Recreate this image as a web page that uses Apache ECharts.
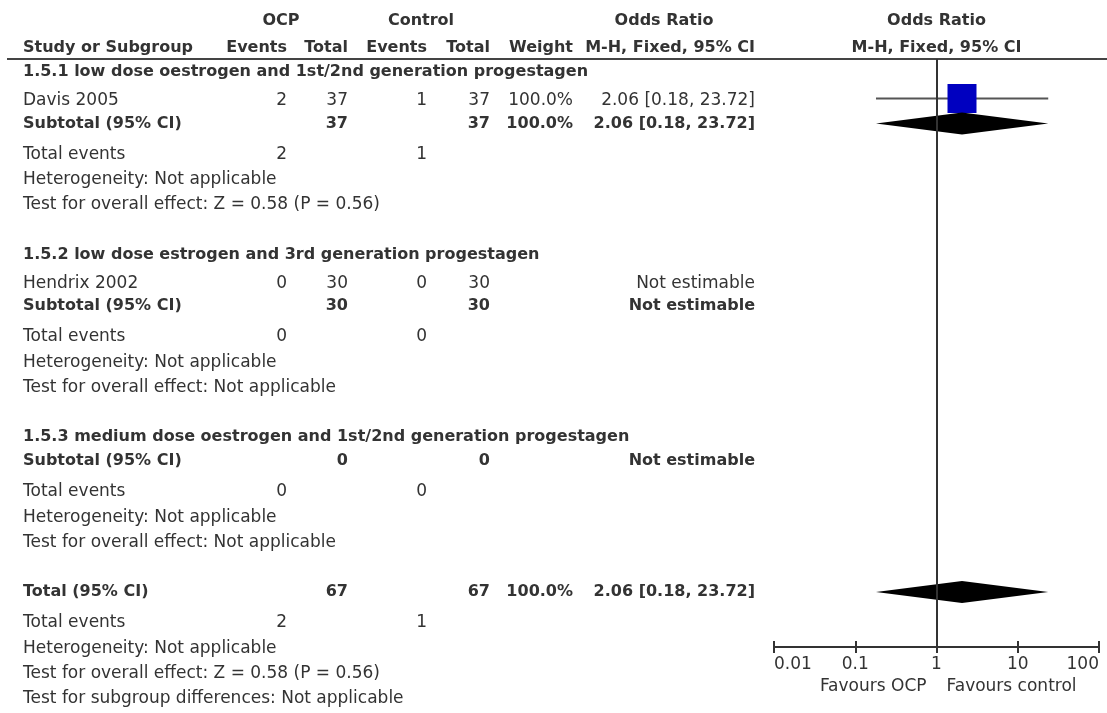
<!DOCTYPE html>
<html>
<head>
<meta charset="utf-8">
<script src="https://cdn.jsdelivr.net/npm/echarts@6/dist/echarts.min.js"></script>
<style>
  html, body { margin: 0; padding: 0; background: #ffffff; }
  #chart { width: 1107px; height: 713px; }
</style>
</head>
<body>
<div id="chart"></div>
<script>
// ---- Study data ----
const subgroupTitles = [
  '1.5.1 low dose oestrogen and 1st/2nd generation progestagen',
  '1.5.2 low dose estrogen and 3rd generation progestagen',
  '1.5.3 medium dose oestrogen and 1st/2nd generation progestagen'
];
const studyNames = ['Davis 2005', 'Hendrix 2002'];
const studyGroup = [0, 1];
const studyOcpEvents = [2, 0];
const studyOcpTotal = [37, 30];
const studyCtrlEvents = [1, 0];
const studyCtrlTotal = [37, 30];
const studyWeight = [100.0, null];
const studyOR = [2.06, null];
const studyLow = [0.18, null];
const studyHigh = [23.72, null];

// ---- Subgroup summaries ----
const subOcpTotal = [37, 30, 0];
const subCtrlTotal = [37, 30, 0];
const subWeight = [100.0, null, null];
const subOR = [2.06, null, null];
const subLow = [0.18, null, null];
const subHigh = [23.72, null, null];
const subOcpEvents = [2, 0, 0];
const subCtrlEvents = [1, 0, 0];
const subHeterogeneity = ['Not applicable', 'Not applicable', 'Not applicable'];
const subOverallEffect = ['Z = 0.58 (P = 0.56)', 'Not applicable', 'Not applicable'];

// ---- Overall summary ----
const totalOcpTotal = [67];
const totalCtrlTotal = [67];
const totalWeight = [100.0];
const totalOR = [2.06];
const totalLow = [0.18];
const totalHigh = [23.72];
const totalOcpEvents = [2];
const totalCtrlEvents = [1];
const totalHeterogeneity = ['Not applicable'];
const totalOverallEffect = ['Z = 0.58 (P = 0.56)'];
const subgroupDifferences = ['Not applicable'];

// ---- Axis ----
const axisTicks = [0.01, 0.1, 1, 10, 100];
const axisTickLabels = ['0.01', '0.1', '1', '10', '100'];
const favoursLabels = ['Favours OCP', 'Favours control'];

// ---- Layout (row spacing in px below the header rule, column anchors in px) ----
const STEP = { headToStudy: 29, studyToStudy: 22, studyToSub: 22.5, headToSub: 24,
               subToEvents: 31, eventsToHet: 25.5, hetToTest: 25, groupGap: 49.5, firstHead: 13 };
const HEAD1 = -38, HEAD2 = -11;
const COL = { name: 23, ocpEv: 287, ocpTot: 348, ctlEv: 427, ctlTot: 490, weight: 573, ci: 755,
              ocpHead: 281, ctlHead: 421, orHead: 664, ruleStart: 7, ruleEnd: 1107 };
const REG = '17px "DejaVu Sans"';
const BOLD = 'bold 16px "DejaVu Sans"';
const TEXT = '#333333';
const STUDY_MARK_LIFT = 2.5;   // study squares sit slightly above the text centre line

const fmtCI = (or, lo, hi) => or == null ? 'Not estimable'
  : or.toFixed(2) + ' [' + lo.toFixed(2) + ', ' + hi.toFixed(2) + ']';
const fmtW = w => w == null ? '' : w.toFixed(1) + '%';

const texts = [];   // table cells
const marks = [];   // forest plot marks: [or, row, lo, hi, weight, kind]
const T = (x, y, text, align, bold) => texts.push({ value: [x, y], text: String(text), align, bold });

// header
T(COL.ocpHead, HEAD1, 'OCP', 'center', true);
T(COL.ctlHead, HEAD1, 'Control', 'center', true);
T(COL.orHead, HEAD1, 'Odds Ratio', 'center', true);
T(COL.name, HEAD2, 'Study or Subgroup', 'left', true);
T(COL.ocpEv, HEAD2, 'Events', 'right', true);
T(COL.ocpTot, HEAD2, 'Total', 'right', true);
T(COL.ctlEv, HEAD2, 'Events', 'right', true);
T(COL.ctlTot, HEAD2, 'Total', 'right', true);
T(COL.weight, HEAD2, 'Weight', 'right', true);
T(COL.ci, HEAD2, 'M-H, Fixed, 95% CI', 'right', true);

function summaryRows(y, label, ocpTot, ctlTot, w, or, lo, hi, ocpEv, ctlEv, het, eff) {
  T(COL.name, y, label, 'left', true);
  T(COL.ocpTot, y, ocpTot, 'right', true);
  T(COL.ctlTot, y, ctlTot, 'right', true);
  T(COL.weight, y, fmtW(w), 'right', true);
  T(COL.ci, y, fmtCI(or, lo, hi), 'right', true);
  if (or != null) marks.push([or, y, lo, hi, w, 'diamond']);
  y += STEP.subToEvents;
  T(COL.name, y, 'Total events', 'left', false);
  T(COL.ocpEv, y, ocpEv, 'right', false);
  T(COL.ctlEv, y, ctlEv, 'right', false);
  y += STEP.eventsToHet;
  T(COL.name, y, 'Heterogeneity: ' + het, 'left', false);
  y += STEP.hetToTest;
  T(COL.name, y, 'Test for overall effect: ' + eff, 'left', false);
  return y;
}

let y = STEP.firstHead;
subgroupTitles.forEach((title, g) => {
  if (g > 0) y += STEP.groupGap;
  T(COL.name, y, title, 'left', true);
  let n = 0;
  studyNames.forEach((name, i) => {
    if (studyGroup[i] !== g) return;
    y += n === 0 ? STEP.headToStudy : STEP.studyToStudy;
    n++;
    T(COL.name, y, name, 'left', false);
    T(COL.ocpEv, y, studyOcpEvents[i], 'right', false);
    T(COL.ocpTot, y, studyOcpTotal[i], 'right', false);
    T(COL.ctlEv, y, studyCtrlEvents[i], 'right', false);
    T(COL.ctlTot, y, studyCtrlTotal[i], 'right', false);
    T(COL.weight, y, fmtW(studyWeight[i]), 'right', false);
    T(COL.ci, y, fmtCI(studyOR[i], studyLow[i], studyHigh[i]), 'right', false);
    if (studyOR[i] != null) marks.push([studyOR[i], y, studyLow[i], studyHigh[i], studyWeight[i], 'square']);
  });
  y += n > 0 ? STEP.studyToSub : STEP.headToSub;
  y = summaryRows(y, 'Subtotal (95% CI)', subOcpTotal[g], subCtrlTotal[g], subWeight[g],
                  subOR[g], subLow[g], subHigh[g], subOcpEvents[g], subCtrlEvents[g],
                  subHeterogeneity[g], subOverallEffect[g]);
});
y += STEP.groupGap;
y = summaryRows(y, 'Total (95% CI)', totalOcpTotal[0], totalCtrlTotal[0], totalWeight[0],
                totalOR[0], totalLow[0], totalHigh[0], totalOcpEvents[0], totalCtrlEvents[0],
                totalHeterogeneity[0], totalOverallEffect[0]);
y += STEP.hetToTest;
T(COL.name, y, 'Test for subgroup differences: ' + subgroupDifferences[0], 'left', false);

// labels hung on the plot's line of no effect (x = 1)
const AXIS_Y = 588;
const plotLabels = [
  { value: [1, HEAD1], text: 'Odds Ratio', align: 'center', dx: 0, bold: true },
  { value: [1, HEAD2], text: 'M-H, Fixed, 95% CI', align: 'center', dx: 0, bold: true },
  { value: [1, AXIS_Y + 40], text: favoursLabels[0], align: 'right', dx: -10, bold: false },
  { value: [1, AXIS_Y + 40], text: favoursLabels[1], align: 'left', dx: 10, bold: false }
];

const tickLabel = v => {
  const i = axisTicks.findIndex(t => Math.abs(Math.log10(t) - Math.log10(v)) < 1e-6);
  return i >= 0 ? axisTickLabels[i] : '';
};

const chart = echarts.init(document.getElementById('chart'), null, { renderer: 'canvas' });
const logAxisBase = { gridIndex: 1, type: 'log', logBase: 10, min: 0.01, max: 100, splitNumber: 4,
                      splitLine: { show: false } };

chart.setOption({
  animation: false,
  backgroundColor: '#ffffff',
  grid: [
    { left: 0, top: 59, width: 1107, height: AXIS_Y },
    { left: 774, top: 59, width: 325, height: AXIS_Y }
  ],
  xAxis: [
    { gridIndex: 0, type: 'value', min: 0, max: 1107, show: false },
    Object.assign({}, logAxisBase, {
      position: 'bottom',
      axisLine: { show: true, onZero: false, lineStyle: { color: '#333', width: 2 } },
      axisTick: { show: true, inside: false, length: 6, lineStyle: { color: '#333', width: 2 } },
      axisLabel: { show: true, formatter: tickLabel, color: '#333', fontSize: 17,
                   fontFamily: 'DejaVu Sans', margin: 9, showMinLabel: true, showMaxLabel: true,
                   alignMinLabel: 'left', alignMaxLabel: 'right' }
    }),
    Object.assign({}, logAxisBase, {
      position: 'bottom',
      axisLine: { show: false, onZero: false },
      axisTick: { show: true, inside: true, length: 6, lineStyle: { color: '#333', width: 2 } },
      axisLabel: { show: false }
    })
  ],
  yAxis: [
    { gridIndex: 0, type: 'value', min: 0, max: AXIS_Y, inverse: true, show: false },
    { gridIndex: 1, type: 'value', min: 0, max: AXIS_Y, inverse: true, show: false }
  ],
  series: [
    {
      // header rule
      type: 'custom', xAxisIndex: 0, yAxisIndex: 0, silent: true,
      data: [[COL.ruleStart, 0, COL.ruleEnd]],
      renderItem: (params, api) => {
        const a = api.coord([api.value(0), api.value(1)]);
        const b = api.coord([api.value(2), api.value(1)]);
        return { type: 'line', shape: { x1: a[0], y1: a[1], x2: b[0], y2: b[1] },
                 style: { stroke: '#444', lineWidth: 2 } };
      }
    },
    {
      // table cells
      type: 'custom', xAxisIndex: 0, yAxisIndex: 0, silent: true,
      data: texts.map(t => t.value),
      renderItem: (params, api) => {
        const t = texts[params.dataIndex];
        const p = api.coord([api.value(0), api.value(1)]);
        return { type: 'text', x: p[0], y: p[1],
                 style: { text: t.text, font: t.bold ? BOLD : REG, fill: TEXT,
                          textAlign: t.align, textVerticalAlign: 'middle' } };
      }
    },
    {
      // plot headings and favours labels
      type: 'custom', xAxisIndex: 1, yAxisIndex: 1, silent: true,
      data: plotLabels.map(t => t.value),
      renderItem: (params, api) => {
        const t = plotLabels[params.dataIndex];
        const p = api.coord([api.value(0), api.value(1)]);
        return { type: 'text', x: p[0] + t.dx, y: p[1],
                 style: { text: t.text, font: t.bold ? BOLD : REG, fill: TEXT,
                          textAlign: t.align, textVerticalAlign: 'middle' } };
      }
    },
    {
      // forest plot marks
      type: 'custom', xAxisIndex: 1, yAxisIndex: 1, silent: true,
      data: marks.map(m => m.slice(0, 5)),
      encode: { x: [0, 2, 3], y: 1 },
      renderItem: (params, api) => {
        const kind = marks[params.dataIndex][5];
        const or = api.value(0), row = api.value(1), lo = api.value(2), hi = api.value(3), w = api.value(4);
        const c = api.coord([or, row]);
        const l = api.coord([lo, row]);
        const r = api.coord([hi, row]);
        if (kind === 'square') {
          const side = 29 * Math.sqrt(w / 100);
          const cy = c[1] - STUDY_MARK_LIFT;
          return { type: 'group', children: [
            { type: 'line', shape: { x1: l[0], y1: cy, x2: r[0], y2: cy },
              style: { stroke: '#555', lineWidth: 2 } },
            { type: 'rect', shape: { x: c[0] - side / 2, y: cy - side / 2, width: side, height: side },
              style: { fill: '#0000c0' } }
          ] };
        }
        const h = 11;
        return { type: 'polygon',
                 shape: { points: [[l[0], c[1]], [c[0], c[1] - h], [r[0], c[1]], [c[0], c[1] + h]] },
                 style: { fill: '#000000' } };
      },
      markLine: {
        silent: true, symbol: ['none', 'none'], label: { show: false },
        lineStyle: { color: '#333', width: 2, type: 'solid' },
        data: [{ xAxis: 1 }]
      }
    }
  ]
});
</script>
</body>
</html>
